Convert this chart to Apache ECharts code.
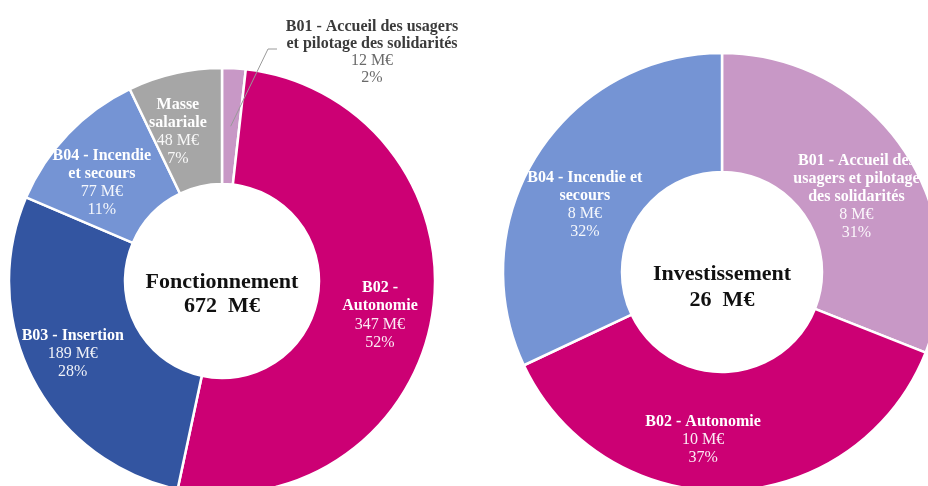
<!DOCTYPE html>
<html>
<head>
<meta charset="utf-8">
<script src="https://cdn.jsdelivr.net/npm/echarts@6/dist/echarts.min.js"></script>
<style>
  html, body { margin: 0; padding: 0; background: #fff; }
  #chart { width: 928px; height: 486px; }
</style>
</head>
<body>
<div id="chart"></div>
<script>
// Fonctionnement
const fonctNames = ['B01 - Accueil des usagers\net pilotage des solidarités', 'B02 -\nAutonomie', 'B03 - Insertion', 'B04 - Incendie\net secours', 'Masse\nsalariale']
const fonctAmounts = [12, 347, 189, 77, 48]
const fonctShares = [2, 52, 28, 11, 7]
const fonctTotal = 672

// Investissement
const investNames = ['B01 - Accueil des\nusagers et pilotage\ndes solidarités', 'B02 - Autonomie', 'B04 - Incendie et\nsecours']
const investAmounts = [8, 10, 8]
const investShares = [31, 37, 32]
const investTotal = 26

const colors = {
  B01: '#c898c6',
  B02: '#cc0074',
  B03: '#3355a1',
  B04: '#7594d4',
  Masse: '#a6a6a6'
}
const colorOf = (name) => colors[name.slice(0, 3)] || colors.Masse

const FONT = '"Liberation Serif", "DejaVu Serif", serif'

// géométrie des deux anneaux
const fonctCenter = [222, 281]
const fonctRadius = [97, 213]
const investCenter = [722, 272]
const investRadius = [100, 219]
// position de l'étiquette extérieure de B01
const outLabel = [372, 52]

const chart = echarts.init(document.getElementById('chart'))

const rich = {
  b: { fontFamily: FONT, fontSize: 16, fontWeight: 'bold', color: '#fff', lineHeight: 18, align: 'center' },
  v: { fontFamily: FONT, fontSize: 16, color: 'rgba(255,255,255,0.92)', lineHeight: 18, align: 'center' },
  ob: { fontFamily: FONT, fontSize: 16, fontWeight: 'bold', color: '#3b3b3b', lineHeight: 17, align: 'center' },
  ov: { fontFamily: FONT, fontSize: 16, color: '#6a6a6a', lineHeight: 17, align: 'center' }
}

const labelText = (name, amount, share, outside) => {
  const b = outside ? 'ob' : 'b'
  const v = outside ? 'ov' : 'v'
  return `{${b}|${name}}\n{${v}|${amount} M€}\n{${v}|${share}%}`
}

const fonctData = fonctNames.map((name, i) => {
  const item = {
    name,
    value: fonctAmounts[i],
    itemStyle: { color: colorOf(name) }
  }
  if (i === 0) item.label = { position: 'outside' }
  return item
})

const investData = investNames.map((name, i) => ({
  name,
  value: investShares[i],
  itemStyle: { color: colorOf(name) }
}))

// ligne de rappel de B01 : part du milieu du secteur, au-dessus des autres secteurs
const sum = fonctAmounts.reduce((a, b) => a + b, 0)
const midAngle = (fonctAmounts[0] / sum / 2) * Math.PI * 2
const midR = (fonctRadius[0] + fonctRadius[1]) / 2
const leaderStart = [fonctCenter[0] + midR * Math.sin(midAngle), fonctCenter[1] - midR * Math.cos(midAngle)]

// petits décalages pour coller au placement des étiquettes d'Excel
const fonctShift = [[0, 0], [2, 9], [-9, 0], [-6, 11], [-9, 5]]
const investShift = [[0, 16], [-24, 5], [0, 20]]

const option = {
  animation: false,
  graphic: [
    {
      type: 'text',
      x: fonctCenter[0], y: fonctCenter[1] + 13,
      style: {
        text: `Fonctionnement\n${fonctTotal}  M€`,
        font: `bold 22px ${FONT}`,
        fill: '#111',
        align: 'center',
        verticalAlign: 'middle',
        lineHeight: 24
      }
    },
    {
      type: 'text',
      x: investCenter[0], y: investCenter[1] + 15,
      style: {
        text: `Investissement\n${investTotal}  M€`,
        font: `bold 22px ${FONT}`,
        fill: '#111',
        align: 'center',
        verticalAlign: 'middle',
        lineHeight: 26
      }
    },
    {
      type: 'polyline',
      z: 100,
      silent: true,
      shape: {
        points: [
          leaderStart,
          [outLabel[0] - 104, outLabel[1] - 3],
          [outLabel[0] - 95, outLabel[1] - 3]
        ]
      },
      style: { stroke: '#9a9a9a', lineWidth: 1, fill: null }
    }
  ],
  series: [
    {
      type: 'pie',
      center: fonctCenter,
      radius: fonctRadius,
      startAngle: 90,
      clockwise: true,
      avoidLabelOverlap: false,
      itemStyle: { borderColor: '#fff', borderWidth: 2.5 },
      label: {
        show: true,
        position: 'inside',
        formatter: (p) => labelText(p.name, fonctAmounts[p.dataIndex], fonctShares[p.dataIndex], p.dataIndex === 0),
        rich
      },
      labelLine: { show: false },
      labelLayout: (p) => {
        if (p.dataIndex === 0) {
          return { x: outLabel[0], y: outLabel[1], align: 'center', verticalAlign: 'middle' }
        }
        const s = fonctShift[p.dataIndex]
        return { dx: s[0], dy: s[1] }
      },
      emphasis: { disabled: true },
      data: fonctData
    },
    {
      type: 'pie',
      center: investCenter,
      radius: investRadius,
      startAngle: 90,
      clockwise: true,
      avoidLabelOverlap: false,
      itemStyle: { borderColor: '#fff', borderWidth: 2.5 },
      label: {
        show: true,
        position: 'inside',
        formatter: (p) => labelText(p.name, investAmounts[p.dataIndex], investShares[p.dataIndex], false),
        rich
      },
      labelLine: { show: false },
      labelLayout: (p) => {
        const s = investShift[p.dataIndex]
        return { dx: s[0], dy: s[1] }
      },
      emphasis: { disabled: true },
      data: investData
    }
  ]
}

chart.setOption(option)
</script>
</body>
</html>
